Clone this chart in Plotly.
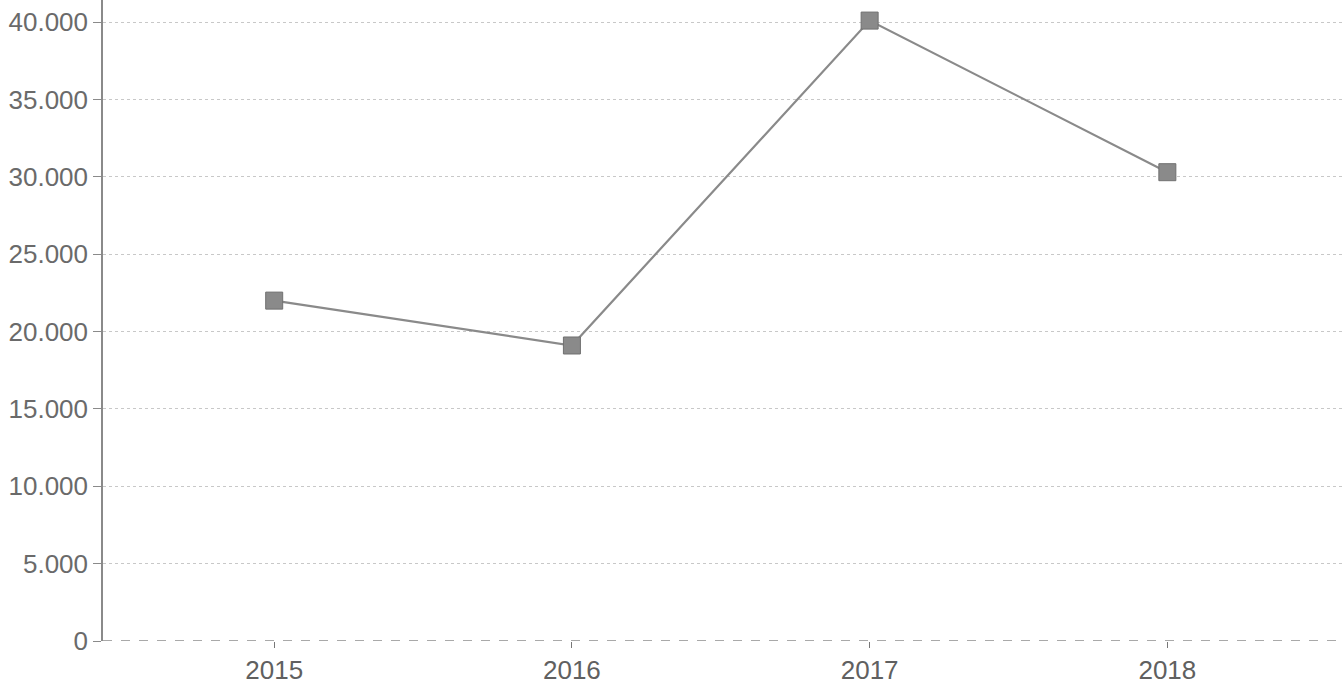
import plotly.graph_objects as go

years = ["2015", "2016", "2017", "2018"]
values = [22000, 19100, 40100, 30300]
y_ticks = [0, 5000, 10000, 15000, 20000, 25000, 30000, 35000, 40000]

fig = go.Figure()
fig.add_trace(go.Scatter(
    x=years, y=values, mode="lines+markers",
    line=dict(color="#8a8a8a", width=2.2),
    marker=dict(symbol="square", size=17, color="#8a8a8a",
                line=dict(color="#707070", width=1)),
    showlegend=False,
))

fig.update_layout(
    width=1343, height=686,
    margin=dict(l=103, r=0, t=0, b=45),
    paper_bgcolor="white", plot_bgcolor="white",
    separators=",.",
    font=dict(family="Liberation Sans, Arial, sans-serif", size=26, color="#666"),
    xaxis=dict(
        type="category", range=[-0.575, 3.59],
        showgrid=False, showline=False, zeroline=False,
        ticks="outside", ticklen=6, tickcolor="#777",
        tickfont=dict(size=26, color="#606060"),
    ),
    yaxis=dict(
        range=[0, 41430], tickvals=y_ticks, tickformat=",d",
        showgrid=True, gridcolor="#c8c8c8", griddash="dot", gridwidth=1,
        showline=True, linecolor="#8a8a8a", linewidth=1.5,
        zeroline=False,
        ticks="outside", ticklen=8, tickcolor="#8a8a8a",
        tickfont=dict(size=26, color="#6a6a6a"),
    ),
)
fig.add_shape(type="line", xref="paper", yref="y", x0=0, x1=1, y0=0, y1=0,
              line=dict(color="#555", width=1.2, dash="dash"))

fig.write_html("out.html", config={"displayModeBar": False},
               post_script="document.body.style.margin='0';document.body.style.overflow='hidden';")
